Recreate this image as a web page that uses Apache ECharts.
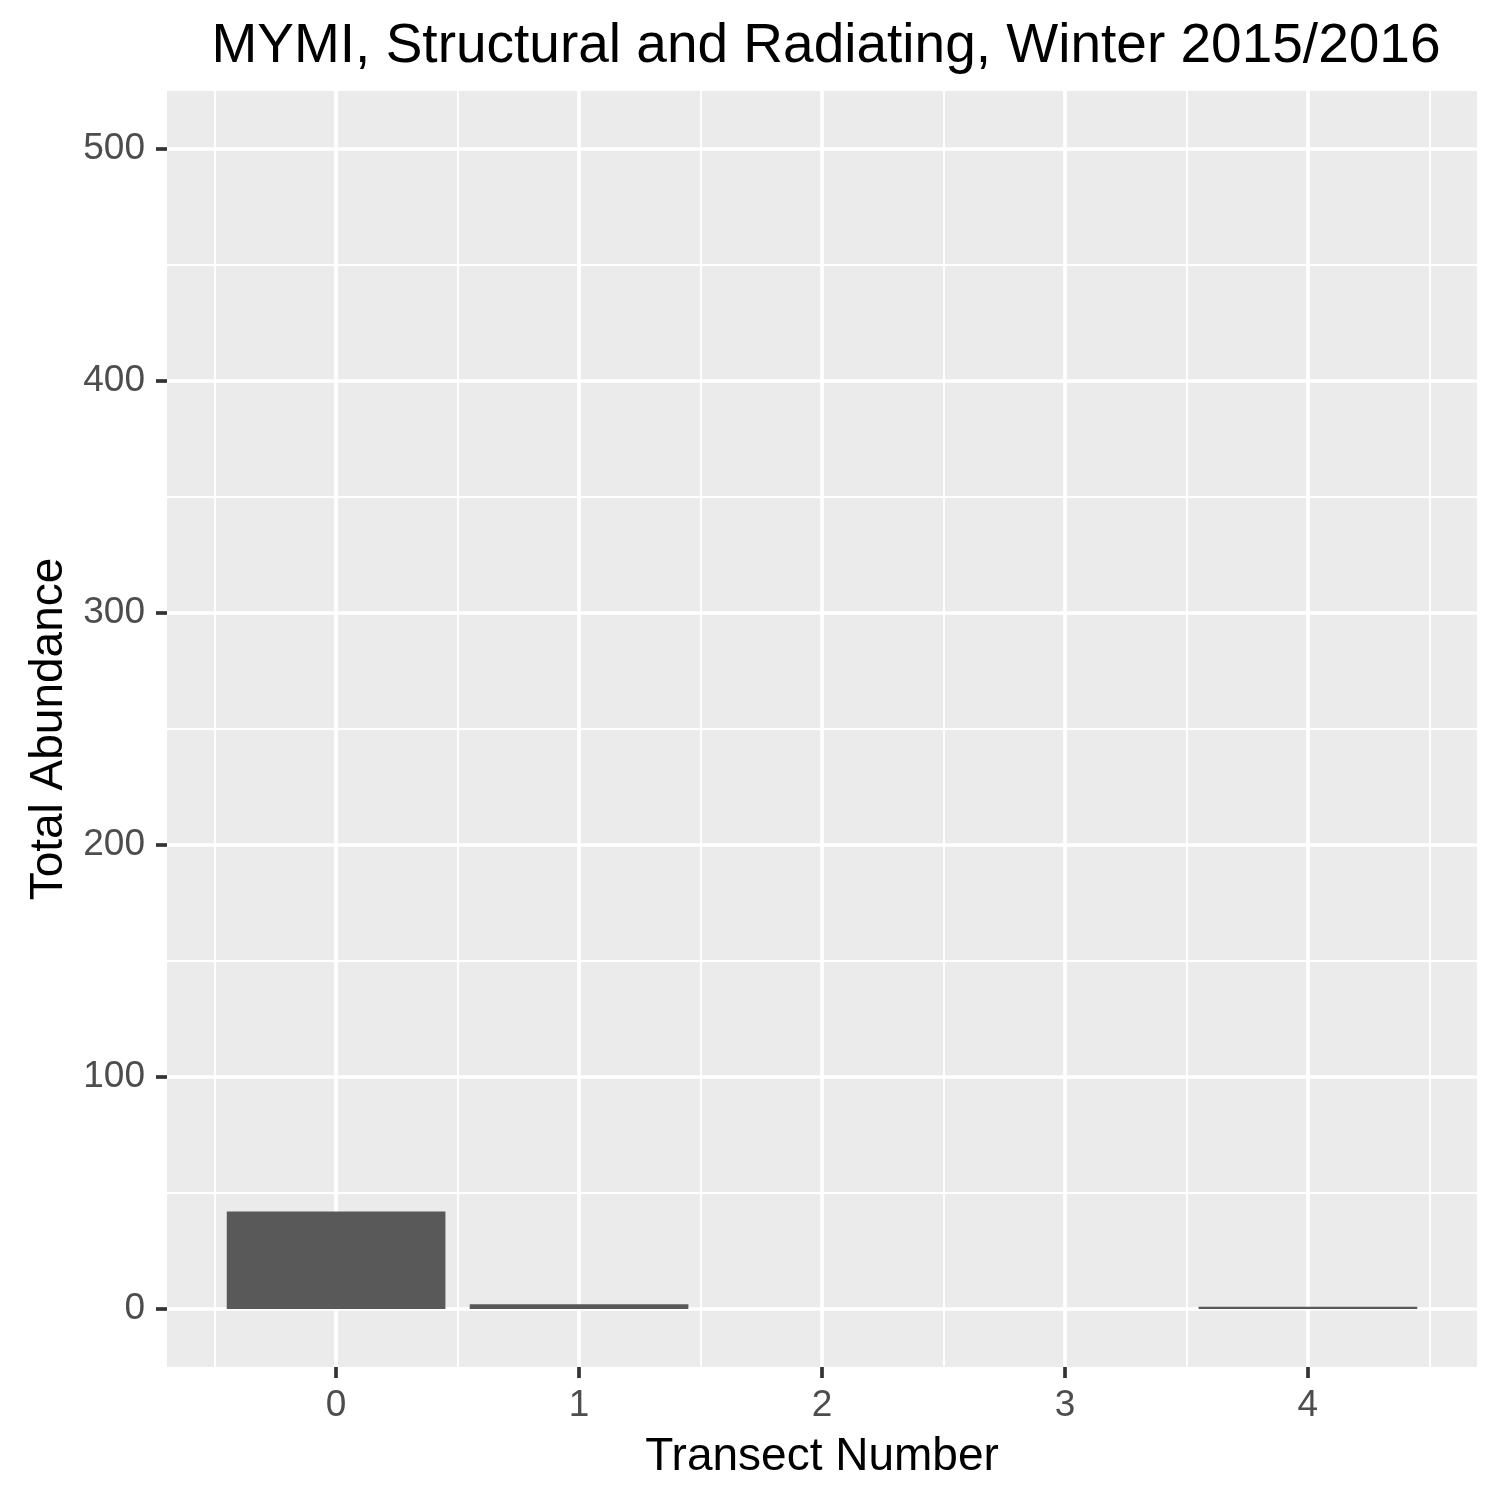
<!DOCTYPE html>
<html>
<head>
<meta charset="utf-8">
<script src="https://cdn.jsdelivr.net/npm/echarts@6/dist/echarts.min.js"></script>
<style>
  html, body { margin: 0; padding: 0; background: #fff; }
  #main { width: 1500px; height: 1500px; }
</style>
</head>
<body>
<div id="main"></div>
<script>
// data
var transects = [0, 1, 2, 3, 4];
var abundance = [42, 2, 0, 0, 1];
var xTicks = [0, 1, 2, 3, 4];
var xMinor = [-0.5, 0.5, 1.5, 2.5, 3.5, 4.5];
var yTicks = [0, 100, 200, 300, 400, 500];
var yMinor = [50, 150, 250, 350, 450];

var font = "'Liberation Sans', Arial, sans-serif";
var barHalf = 0.45;

// 柱子数据
var barData = [];
for (var i = 0; i < transects.length; i++) {
    barData.push([transects[i], abundance[i]]);
}

// 网格线用 markLine 画（主线粗，次线细）
var gridLines = [];
for (var i = 0; i < xMinor.length; i++) {
    gridLines.push({ xAxis: xMinor[i], lineStyle: { width: 1.9 } });
}
for (var i = 0; i < yMinor.length; i++) {
    gridLines.push({ yAxis: yMinor[i], lineStyle: { width: 1.9 } });
}
for (var i = 0; i < xTicks.length; i++) {
    gridLines.push({ xAxis: xTicks[i], lineStyle: { width: 3.7 } });
}
for (var i = 0; i < yTicks.length; i++) {
    gridLines.push({ yAxis: yTicks[i], lineStyle: { width: 3.7 } });
}

var myChart = echarts.init(document.getElementById('main'));
var option = {
    animation: false,
    backgroundColor: '#fff',
    title: {
        text: 'MYMI, Structural and Radiating, Winter 2015/2016',
        left: 821,
        top: 14,
        textAlign: 'center',
        textStyle: {
            fontFamily: font,
            fontSize: 55,
            fontWeight: 'normal',
            color: '#000'
        }
    },
    grid: {
        left: 167,
        right: 23,
        top: 91,
        bottom: 133,
        show: true,
        backgroundColor: '#EBEBEB',
        borderWidth: 0,
        containLabel: false
    },
    xAxis: {
        type: 'value',
        min: -0.696,
        max: 4.696,
        name: 'Transect Number',
        nameLocation: 'middle',
        nameGap: 67,
        nameTextStyle: { fontFamily: font, fontSize: 46, color: '#000' },
        axisLine: { show: false, onZero: false },
        splitLine: { show: false },
        axisTick: {
            show: true,
            inside: false,
            customValues: xTicks,
            length: 11,
            lineStyle: { color: '#333333', width: 3.7 }
        },
        axisLabel: {
            customValues: xTicks,
            margin: 20,
            fontFamily: font,
            fontSize: 37,
            color: '#4D4D4D'
        }
    },
    yAxis: {
        type: 'value',
        min: -25,
        max: 525,
        name: 'Total Abundance',
        nameLocation: 'middle',
        nameRotate: 90,
        nameGap: 85,
        nameTextStyle: { fontFamily: font, fontSize: 46, color: '#000' },
        axisLine: { show: false, onZero: false },
        splitLine: { show: false },
        axisTick: {
            show: true,
            inside: false,
            customValues: yTicks,
            length: 11,
            lineStyle: { color: '#333333', width: 3.7 }
        },
        axisLabel: {
            customValues: yTicks,
            margin: 22,
            fontFamily: font,
            fontSize: 37,
            color: '#4D4D4D'
        }
    },
    series: [{
        type: 'custom',
        z: 2,
        data: barData,
        renderItem: function (params, api) {
            var x = api.value(0);
            var y = api.value(1);
            var p0 = api.coord([x - barHalf, y]);
            var p1 = api.coord([x + barHalf, 0]);
            return {
                type: 'rect',
                shape: { x: p0[0], y: p0[1], width: p1[0] - p0[0], height: p1[1] - p0[1] },
                style: { fill: '#595959' }
            };
        },
        markLine: {
            z: 1,
            silent: true,
            symbol: ['none', 'none'],
            label: { show: false },
            lineStyle: { color: '#FFFFFF', type: 'solid' },
            data: gridLines
        }
    }]
};
myChart.setOption(option);
</script>
</body>
</html>
